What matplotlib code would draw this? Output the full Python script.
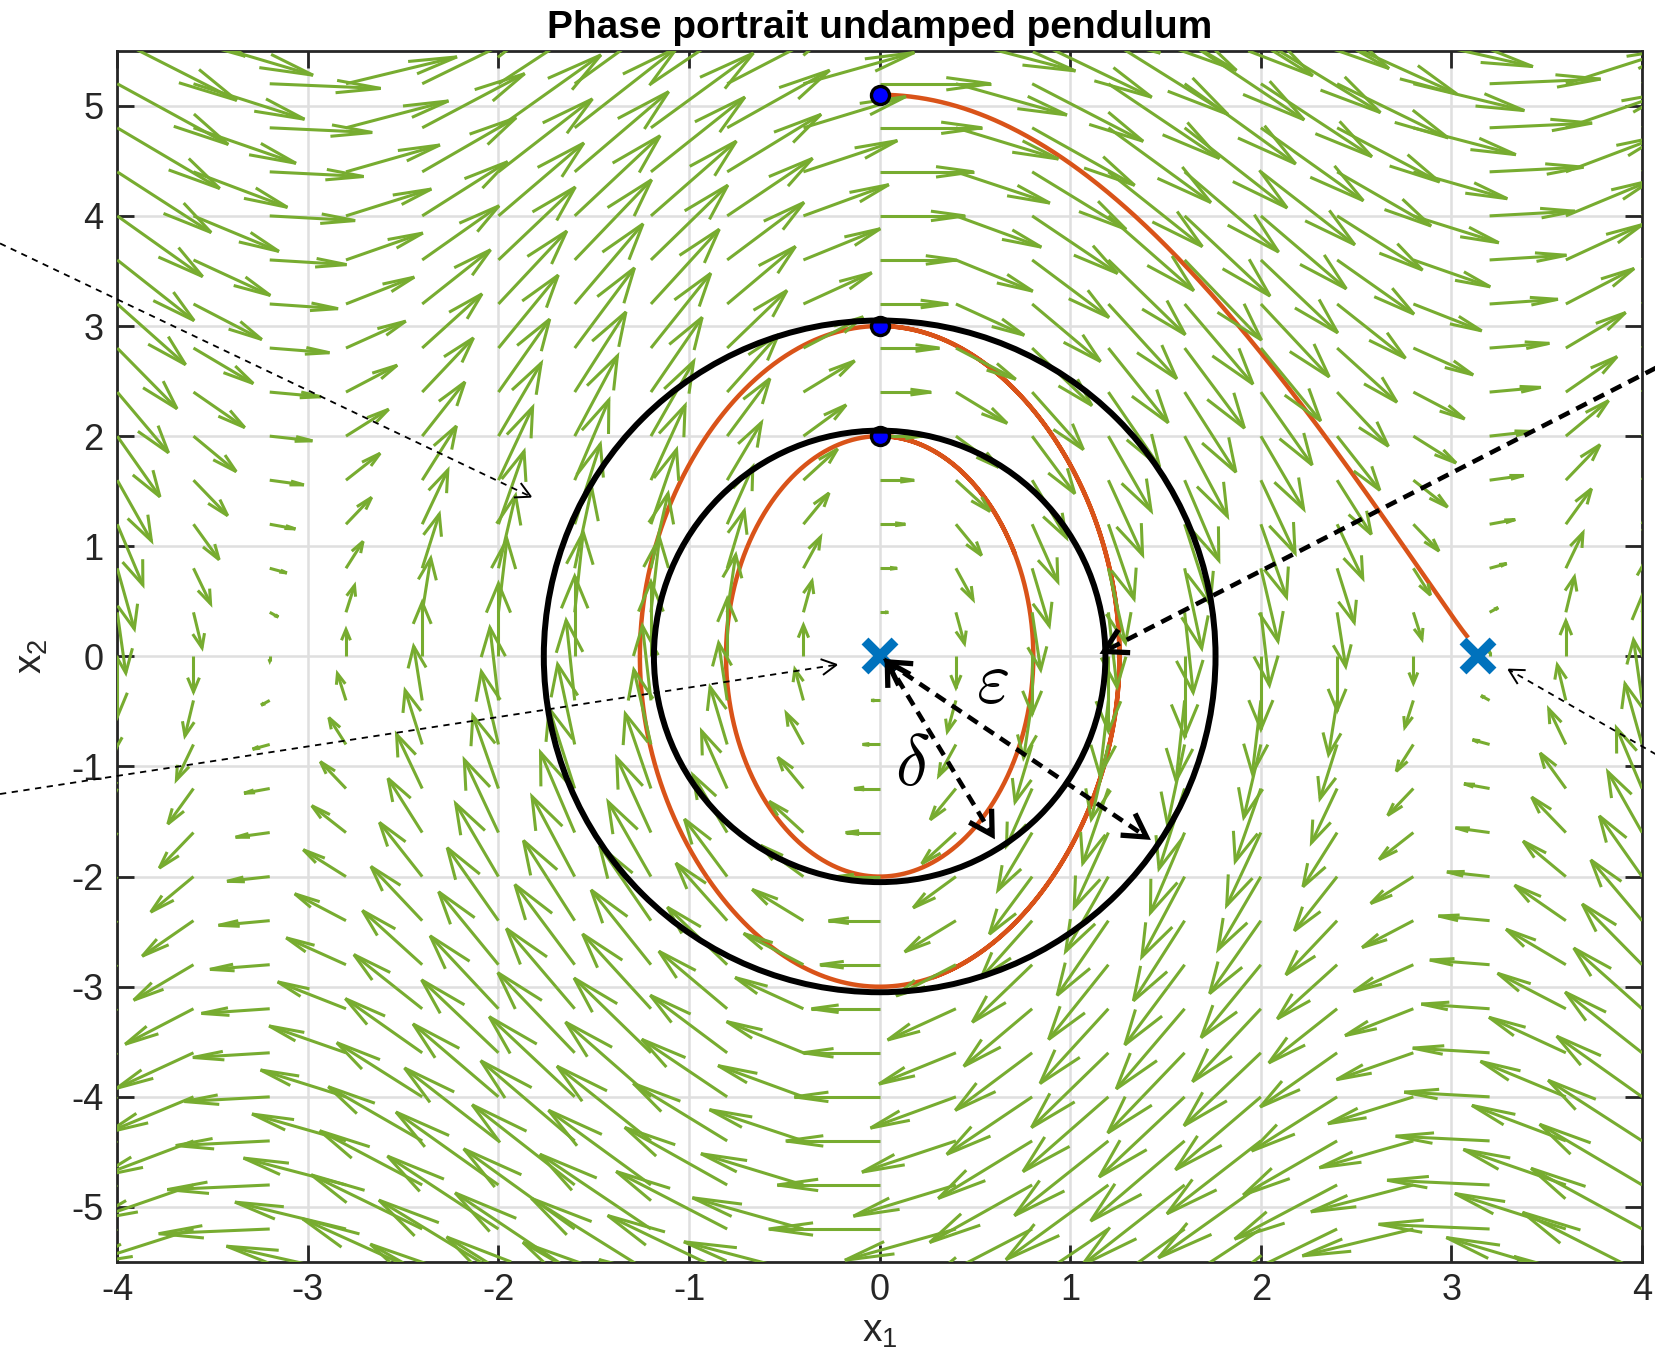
import numpy as np
import matplotlib
matplotlib.use("Agg")
import matplotlib.pyplot as plt
from matplotlib.collections import LineCollection
from matplotlib.patches import Ellipse

# ---------------- data ----------------
x1_grid = np.linspace(-4, 4, 21)          # quiver grid, x1
x2_grid = np.linspace(-6, 6, 31)          # quiver grid, x2
omega_sq = 6.5                            # g / l of the pendulum
init_x1 = [0.0, 0.0, 0.0]                 # initial states (blue dots)
init_x2 = [2.0, 3.0, 5.1]
t_end = [3.0, 4.0, 6.0]                   # simulated time per trajectory
stop_x1 = [None, None, 3.08]              # trajectory 3 stops near the saddle
eq_x1 = [0.0, np.pi]                      # equilibria (blue crosses)
eq_x2 = [0.0, 0.0]
radius_delta = 2.05                       # circle radii (in x2 units)
radius_eps = 3.05
xticks = [-4, -3, -2, -1, 0, 1, 2, 3, 4]
yticks = [-5, -4, -3, -2, -1, 0, 1, 2, 3, 4, 5]
title = "Phase portrait undamped pendulum"

# ---------------- style ----------------
plt.rcParams["font.family"] = ["Liberation Sans", "DejaVu Sans"]
plt.rcParams["axes.unicode_minus"] = False
plt.rcParams["mathtext.fontset"] = "custom"
plt.rcParams["mathtext.rm"] = "Liberation Sans"
plt.rcParams["mathtext.it"] = "Liberation Sans:italic"
plt.rcParams["mathtext.default"] = "it"
plt.rcParams["lines.scale_dashes"] = False

GREEN = "#77AC30"
RED = "#D95319"
BLUE = "#0072BD"
AXC = "#262626"

fig = plt.figure(figsize=(16.56, 13.56), dpi=100)
ax = fig.add_axes([0.0708, 0.0693, 0.9208, 0.8933])
ax.set_xlim(-4, 4)
ax.set_ylim(-5.5, 5.5)
ax.set_xticks(xticks)
ax.set_yticks(yticks)
ax.tick_params(direction="in", length=12, width=2.0, colors=AXC, labelsize=26,
               top=True, right=True, pad=8)
ax.tick_params(axis="y", pad=10)
for sp in ax.spines.values():
    sp.set_color(AXC)
    sp.set_linewidth(2.0)
ax.grid(True, color="#DFDFDF", lw=1.8)
ax.set_axisbelow(True)

ax.set_title(title, fontsize=28, fontweight="bold", pad=9)
ax.set_xlabel(r"x$_{\mathrm{1}}$", fontsize=28, color=AXC)
ax.set_ylabel(r"x$_{\mathrm{2}}$", fontsize=28, color=AXC)
ax.xaxis.set_label_coords(0.5, -0.043)
ax.yaxis.set_label_coords(-0.044, 0.5)

# ---------------- quiver (MATLAB style) ----------------
X, Y = np.meshgrid(x1_grid, x2_grid)
U = Y
V = -omega_sq * np.sin(X)
s = 0.112
u = U * s
v = V * s
alpha, beta = 0.40, 0.24
segs = []
for x0, y0, uu, vv in zip(X.ravel(), Y.ravel(), u.ravel(), v.ravel()):
    tx, ty = x0 + uu, y0 + vv
    segs.append([(x0, y0), (tx, ty)])
    h1 = (tx - alpha * (uu + beta * vv), ty - alpha * (vv - beta * uu))
    h2 = (tx - alpha * (uu - beta * vv), ty - alpha * (vv + beta * uu))
    segs.append([h1, (tx, ty), h2])
lc = LineCollection(segs, colors=GREEN, linewidths=2.2, zorder=3,
                    capstyle="butt", joinstyle="miter")
ax.add_collection(lc)

# ---------------- trajectories ----------------
def rhs(st):
    return np.array([st[1], -omega_sq * np.sin(st[0])])

def simulate(x10, x20, T, stop):
    dt = 0.002
    st = np.array([x10, x20], float)
    pts = [st.copy()]
    t = 0.0
    while t < T:
        k1 = rhs(st)
        k2 = rhs(st + dt / 2 * k1)
        k3 = rhs(st + dt / 2 * k2)
        k4 = rhs(st + dt * k3)
        st = st + dt / 6 * (k1 + 2 * k2 + 2 * k3 + k4)
        t += dt
        pts.append(st.copy())
        if stop is not None and st[0] >= stop:
            break
    return np.array(pts)

for a, b, T, stp in zip(init_x1, init_x2, t_end, stop_x1):
    tr = simulate(a, b, T, stp)
    ax.plot(tr[:, 0], tr[:, 1], color=RED, lw=3.2, zorder=2)

ax.plot(init_x1, init_x2, "o", ms=13, mfc="#0000FF", mec="k", mew=2.4, zorder=4)

# ---------------- circles (round on screen) ----------------
p0 = ax.transData.transform((0, 0))
px_x = ax.transData.transform((1, 0))[0] - p0[0]
px_y = ax.transData.transform((0, 1))[1] - p0[1]
ratio = px_y / px_x
for r in (radius_delta, radius_eps):
    ax.add_patch(Ellipse((0, 0), 2 * r * ratio, 2 * r, fill=False, ec="k",
                         lw=4.3, zorder=5))

ax.plot(eq_x1, eq_x2, "x", ms=22, mew=7, color=BLUE, zorder=7)

# ---------------- annotation arrows ----------------
inv = ax.transData.inverted()

def head(tip, tail, length, half_angle, lw):
    tp = ax.transData.transform(tip)
    tl = ax.transData.transform(tail)
    d = tl - tp
    d = d / np.hypot(*d)
    pts = []
    for sgn in (1, -1):
        a = np.deg2rad(sgn * half_angle)
        rot = np.array([[np.cos(a), -np.sin(a)], [np.sin(a), np.cos(a)]])
        pts.append(tp + length * rot @ d)
    arr = inv.transform(np.array([pts[0], tp, pts[1]]))
    ax.plot(arr[:, 0], arr[:, 1], color="k", lw=lw, clip_on=False, zorder=8,
            solid_capstyle="butt", solid_joinstyle="miter")

def arrow(tail, tip, lw, dash, hl, ha, hlw, double=False):
    ax.plot([tail[0], tip[0]], [tail[1], tip[1]], color="k", lw=lw,
            ls=(0, dash), clip_on=False, zorder=8, dash_capstyle="butt")
    head(tip, tail, hl, ha, hlw)
    if double:
        head(tail, tip, hl, ha, hlw)

thin = dict(lw=1.3, dash=(4.5, 4.0), hl=17, ha=28, hlw=1.4)
thick = dict(lw=3.3, dash=(8.5, 5.5), hl=26, ha=30, hlw=3.8)

arrow((-4.615, 3.75), (-1.83, 1.45), **thin)
arrow((-4.615, -1.25), (-0.226, -0.076), **thin)
arrow((4.073, -0.89), (3.30, -0.12), **thin)
arrow((4.073, 2.62), (1.178, 0.045), **thick)
arrow((0.04, -0.05), (0.59, -1.62), double=True, **thick)
arrow((0.04, -0.05), (1.40, -1.64), double=True, **thick)

ax.text(0.59, -0.25, r"$\varepsilon$", fontsize=52, math_fontfamily="cm",
        ha="center", va="center", zorder=9)
ax.text(0.17, -1.0, r"$\delta$", fontsize=52, math_fontfamily="cm",
        ha="center", va="center", zorder=9)

fig.savefig("out.png", dpi=100)
